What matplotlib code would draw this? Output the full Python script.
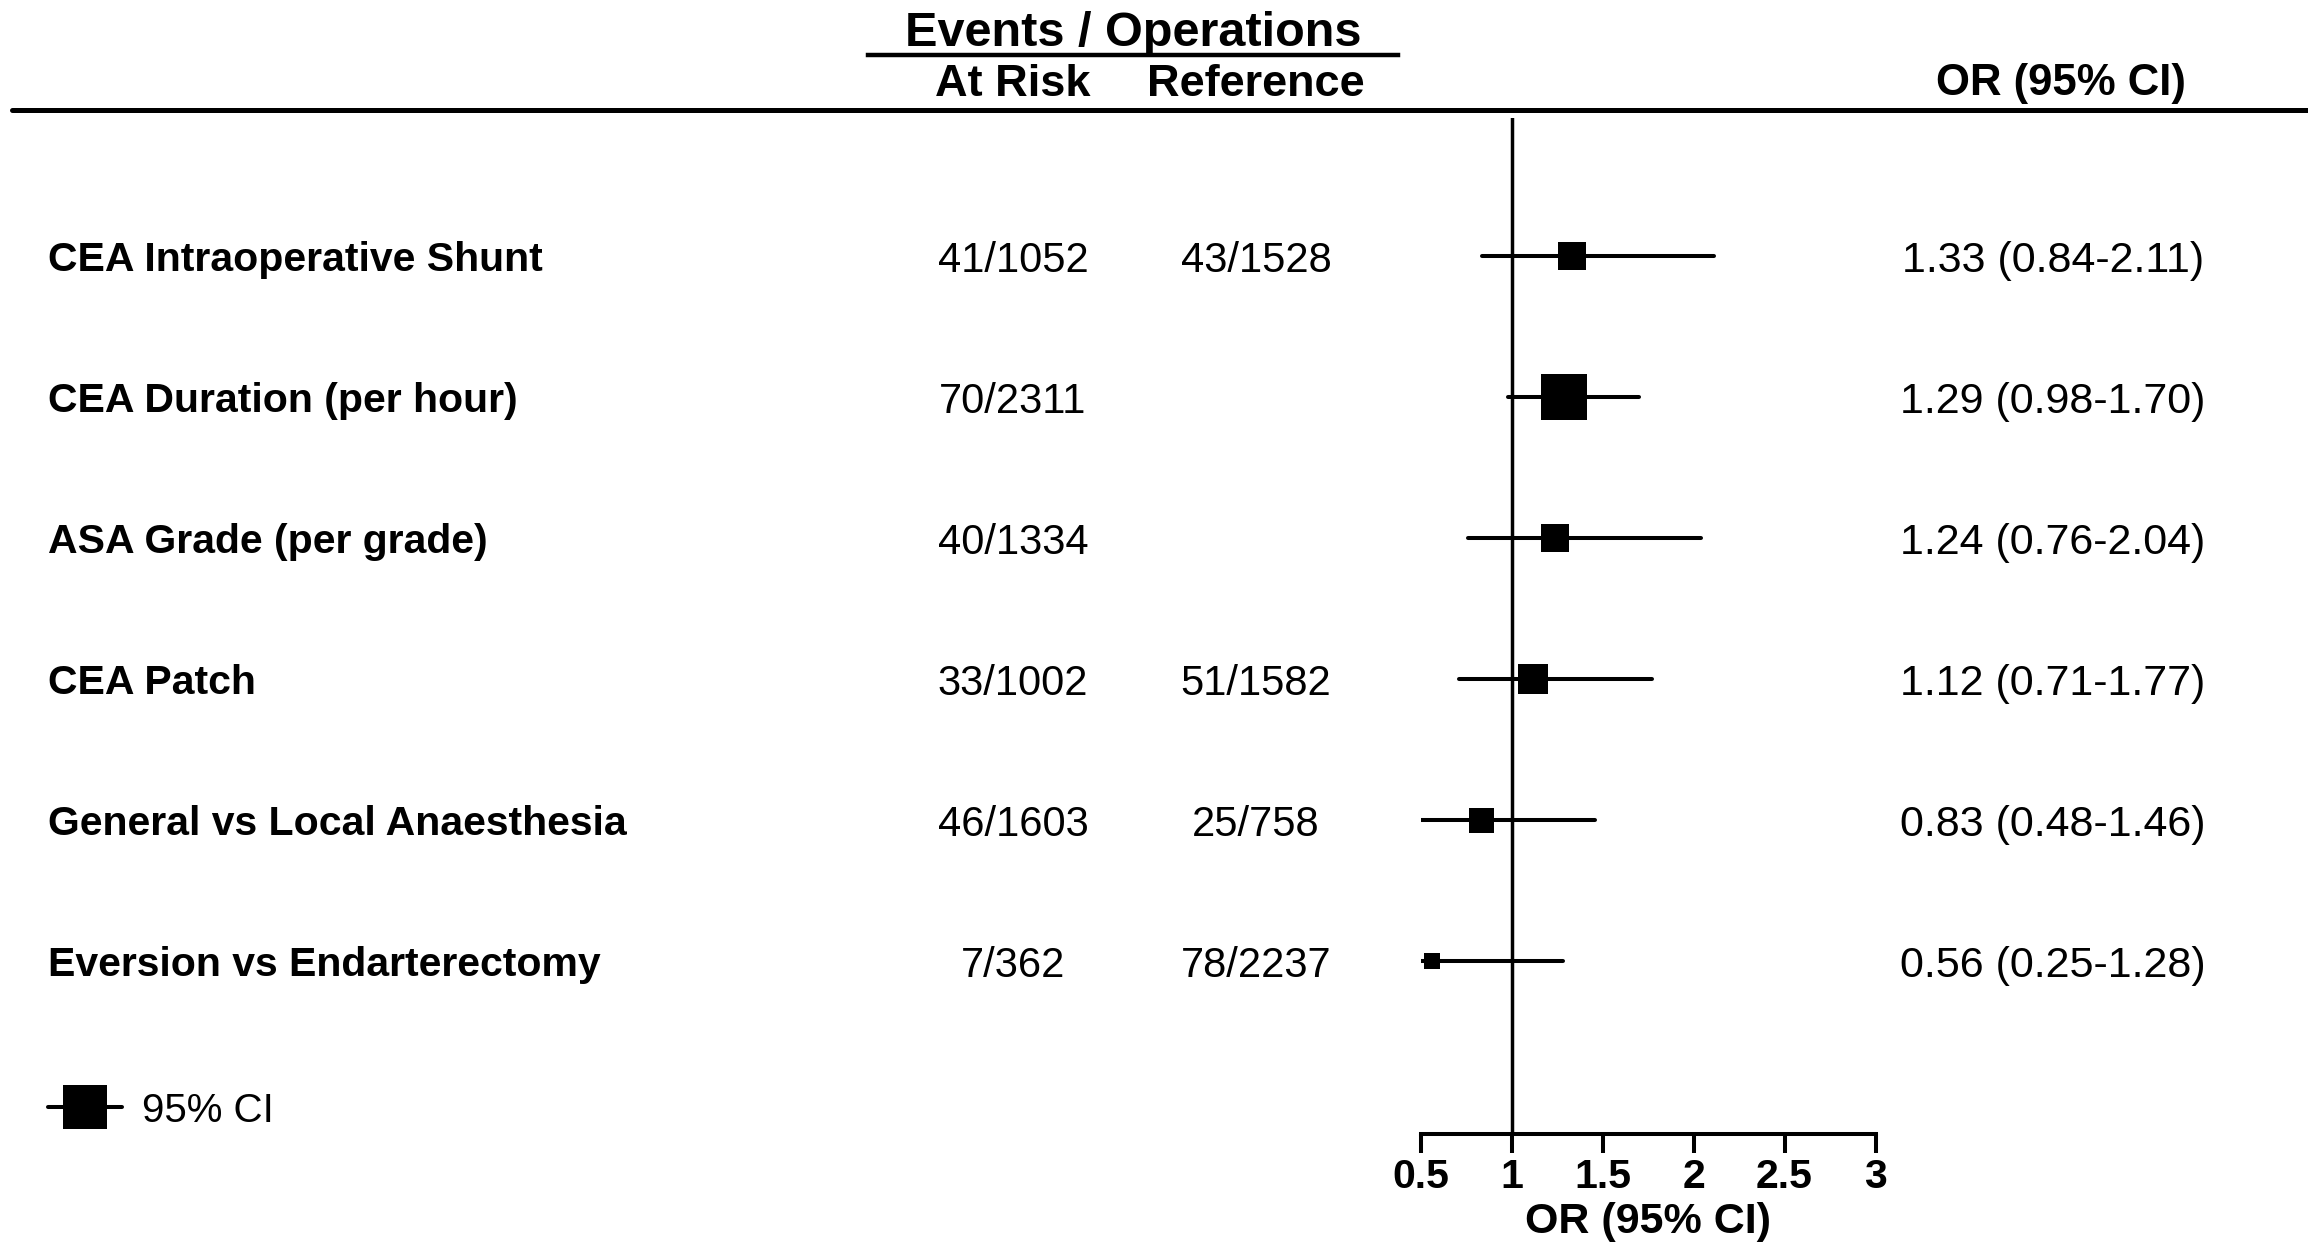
import matplotlib
matplotlib.use("Agg")
import matplotlib.pyplot as plt
from matplotlib import transforms

plt.rcParams['font.family'] = ['Liberation Sans', 'DejaVu Sans']

# Datos del forest plot
factores = ["CEA Intraoperative Shunt", "CEA Duration (per hour)", "ASA Grade (per grade)",
            "CEA Patch", "General vs Local Anaesthesia", "Eversion vs Endarterectomy"]
at_risk = ["41/1052", "70/2311", "40/1334", "33/1002", "46/1603", "7/362"]
referencia = ["43/1528", "", "", "51/1582", "25/758", "78/2237"]
odds_ratio = [1.33, 1.29, 1.24, 1.12, 0.83, 0.56]
ci_low = [0.84, 0.98, 0.76, 0.71, 0.48, 0.25]
ci_high = [2.11, 1.70, 2.04, 1.77, 1.46, 1.28]
x_ticks = [0.5, 1, 1.5, 2, 2.5, 3]
x_tick_labels = ["0.5", "1", "1.5", "2", "2.5", "3"]

# tamaño de los cuadrados (en puntos)
box_size = [19.5, 33, 19.5, 21, 18, 12]

W, H = 2308, 1247


def fx(px):
    return px / W


def fy(py):
    return 1 - py / H


fig = plt.figure(figsize=(W / 100, H / 100), dpi=100)
ax = fig.add_axes([fx(1420.6), fy(1133.5), fx(1875.5) - fx(1420.6), fy(118) - fy(1133.5)])

n = len(factores)
ys = [n - i for i in range(n)]

# Intervalos y cuadrados
for y, orv, lo, hi, ms in zip(ys, odds_ratio, ci_low, ci_high, box_size):
    ax.plot([lo, hi], [y, y], color='black', lw=2.9, solid_capstyle='round', zorder=3)
    ax.plot([orv], [y], marker='s', color='black', markersize=ms, markeredgewidth=0, zorder=4)

ax.axvline(1, color='black', lw=2.5, zorder=2)

ax.set_xlim(0.5, 3)
ax.set_ylim(-0.22, 6.98)
for s in ['top', 'right', 'left']:
    ax.spines[s].set_visible(False)
ax.spines['bottom'].set_linewidth(2.9)
ax.spines['bottom'].set_bounds(0.5, 3)
ax.set_yticks([])
ax.set_xticks(x_ticks)
ax.set_xticklabels(x_tick_labels, fontsize=29.5, fontweight='bold')
ax.tick_params(axis='x', direction='out', length=14, width=2.9, pad=4)
ax.set_xlabel("OR (95% CI)", fontsize=31, fontweight='bold', labelpad=4)
ax.patch.set_visible(False)

# Texto por fila (x en figura, y en datos)
blend = transforms.blended_transform_factory(fig.transFigure, ax.transData)
for y, fac, ar, ref, orv, lo, hi in zip(ys, factores, at_risk, referencia, odds_ratio, ci_low, ci_high):
    fig.text(fx(48), y, fac, transform=blend, fontsize=29.5, fontweight='bold', ha='left', va='center_baseline')
    fig.text(fx(1013), y, ar, transform=blend, fontsize=30, ha='center', va='center_baseline')
    fig.text(fx(1256), y, ref, transform=blend, fontsize=30, ha='center', va='center_baseline')
    fig.text(fx(2053), y, f"{orv:.2f} ({lo:.2f}-{hi:.2f})", transform=blend,
             fontsize=31, ha='center', va='center_baseline')

# Leyenda
ley_y = -0.03
ax.plot([fx(48), fx(122)], [ley_y, ley_y], transform=blend, color='black', lw=2.9,
        solid_capstyle='round', clip_on=False)
ax.plot([fx(85)], [ley_y], transform=blend, marker='s', color='black', markersize=31.5,
        markeredgewidth=0, clip_on=False)
fig.text(fx(142), ley_y, "95% CI", transform=blend, fontsize=29, ha='left', va='center_baseline')

# Encabezados
fig.text(fx(1133), fy(34), "Events / Operations", fontsize=35, fontweight='bold', ha='center', va='center')
fig.add_artist(plt.Line2D([fx(868), fx(1398)], [fy(55), fy(55)], color='black', lw=3.2))
fig.text(fx(1013), fy(84), "At Risk", fontsize=32.5, fontweight='bold', ha='center', va='center')
fig.text(fx(1256), fy(84), "Reference", fontsize=32.5, fontweight='bold', ha='center', va='center')
fig.text(fx(2061), fy(84), "OR (95% CI)", fontsize=31.5, fontweight='bold', ha='center', va='center')
fig.add_artist(plt.Line2D([fx(12), 1.0], [fy(110), fy(110)], color='black', lw=3.6,
                          solid_capstyle='round'))

fig.savefig("out.png", dpi=100, facecolor='white')
